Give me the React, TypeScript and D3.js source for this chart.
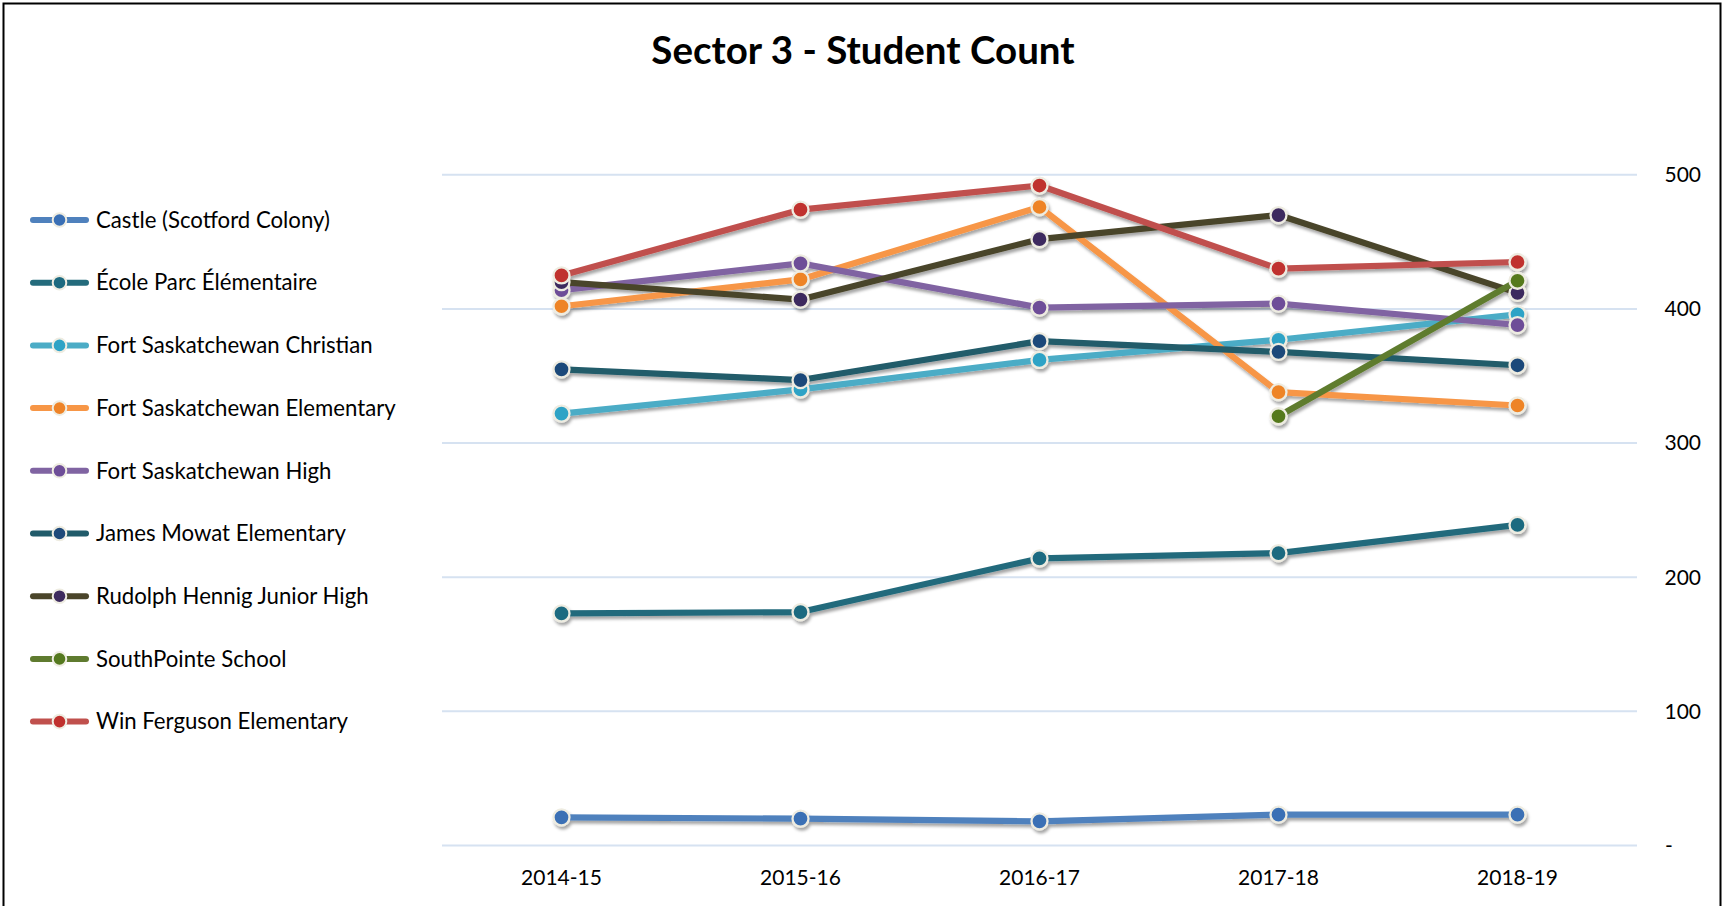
import React from "react";
import * as d3 from "d3";

const categories = ["2014-15", "2015-16", "2016-17", "2017-18", "2018-19"];
const seriesNames = [
  "Castle (Scotford Colony)",
  "École Parc Élémentaire",
  "Fort Saskatchewan Christian",
  "Fort Saskatchewan Elementary",
  "Fort Saskatchewan High",
  "James Mowat Elementary",
  "Rudolph Hennig Junior High",
  "SouthPointe School",
  "Win Ferguson Elementary",
];
const castle = [21, 20, 18, 23, 23];
const ecoleParc = [173, 174, 214, 218, 239];
const fsChristian = [322, 340, 362, 377, 396];
const fsElementary = [402, 422, 476, 338, 328];
const fsHigh = [414, 434, 401, 404, 388];
const jamesMowat = [355, 347, 376, 368, 358];
const rudolph = [420, 407, 452, 470, 412];
const southPointe: (number | null)[] = [null, null, null, 320, 421];
const winFerguson = [425, 474, 492, 430, 435];
const yTicks = [0, 100, 200, 300, 400, 500];

const seriesValues: (number | null)[][] = [
  castle, ecoleParc, fsChristian, fsElementary, fsHigh, jamesMowat, rudolph, southPointe, winFerguson,
];
const lineColors = ["#4F81BD", "#246B7C", "#4BACC6", "#F79646", "#8064A2", "#215B6A", "#4A452A", "#5F7B2F", "#C0504D"];
const markerColors = ["#3A6FB5", "#1D6A80", "#2FA3C6", "#EE8428", "#6E4E98", "#1F4A7A", "#3E2B5E", "#55791F", "#C0312E"];

const FONT = "Lato, 'Open Sans', sans-serif";

export default function App() {
  const W = 1724, H = 906;
  const x = d3.scaleBand<string>().domain(categories).range([442, 1637]);
  const y = d3.scaleLinear().domain([0, 500]).range([845.5, 174.8]);
  const cx = (c: string) => (x(c) as number) + x.bandwidth() / 2;
  const line = d3
    .line<number | null>()
    .defined((d) => d !== null)
    .x((_, i) => cx(categories[i]))
    .y((d) => y(d as number));

  return (
    <svg
      width={W}
      height={H}
      style={{ position: "absolute", left: 0, top: 0, background: "#fff" }}
      fontFamily={FONT}
    >
      <defs>
        <filter id="sh" x="-10%" y="-10%" width="120%" height="130%">
          <feDropShadow dx="1.5" dy="3" stdDeviation="1.6" floodColor="#000" floodOpacity="0.35" />
        </filter>
      </defs>
      <rect x={0} y={0} width={W} height={H} fill="#fff" />
      <rect x={3.5} y={3.5} width={1717} height={920} fill="none" stroke="#000" strokeWidth={2} />
      <text x={863} y={64} textAnchor="middle" fontSize={38.5} fontWeight="bold" fill="#000">
        Sector 3 - Student Count
      </text>

      {yTicks.map((t) => (
        <g key={t}>
          <line x1={442} x2={1637} y1={y(t)} y2={y(t)} stroke="#D6E2F1" strokeWidth={2} />
          <text
            x={t === 0 ? 1665 : 1701}
            y={y(t)}
            dy="0.35em"
            textAnchor={t === 0 ? "start" : "end"}
            fontSize={21}
            fill="#000"
          >
            {t === 0 ? "-" : String(t)}
          </text>
        </g>
      ))}

      {categories.map((c) => (
        <text key={c} x={cx(c)} y={885} textAnchor="middle" fontSize={21} fill="#000">
          {c}
        </text>
      ))}

      <g filter="url(#sh)">
        {seriesValues.map((vals, si) => (
          <g key={si}>
            <path d={line(vals) || ""} fill="none" stroke={lineColors[si]} strokeWidth={6.2} strokeLinejoin="round" />
            {vals.map((v, i) =>
              v === null ? null : (
                <circle
                  key={i}
                  cx={cx(categories[i])}
                  cy={y(v)}
                  r={8}
                  fill={markerColors[si]}
                  stroke="#EEECE1"
                  strokeWidth={2.3}
                />
              )
            )}
          </g>
        ))}
      </g>

      {seriesNames.map((name, i) => {
        const ly = 220 + i * 62.7;
        return (
          <g key={name}>
            <line x1={33} x2={86} y1={ly} y2={ly} stroke={lineColors[i]} strokeWidth={6} strokeLinecap="round" />
            <circle cx={59.5} cy={ly} r={6.8} fill={markerColors[i]} stroke="#EEECE1" strokeWidth={2} />
            <text x={96} y={ly} dy="0.35em" fontSize={22.2} fill="#000">
              {name}
            </text>
          </g>
        );
      })}
    </svg>
  );
}
